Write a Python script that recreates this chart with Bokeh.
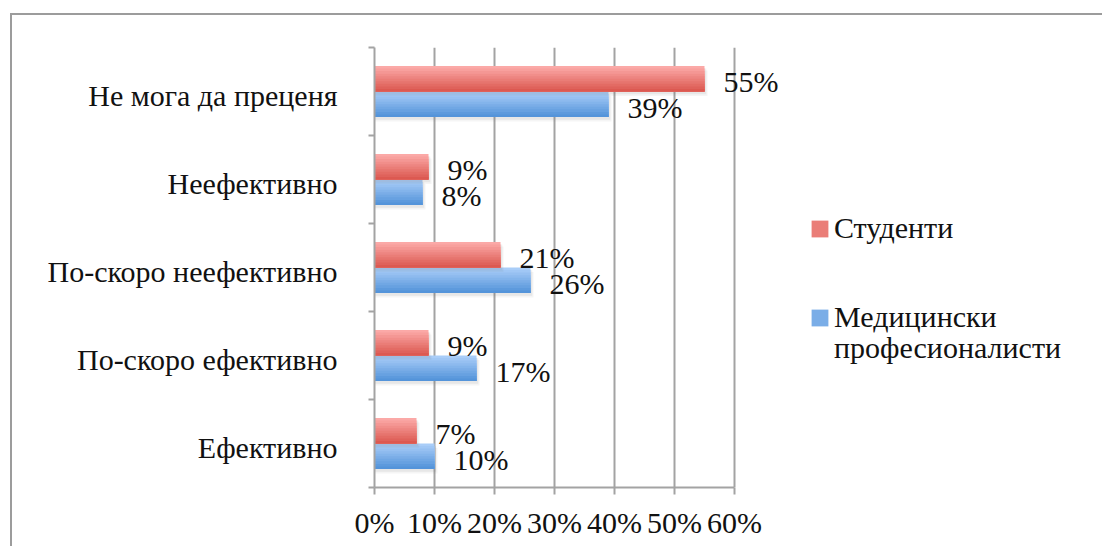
import numpy as np
from bokeh.plotting import figure
from bokeh.models import (ColumnDataSource, FixedTicker, PrintfTickFormatter, Range1d,
                          Legend, LegendItem, LabelSet)
from bokeh.embed import file_html
from bokeh.resources import INLINE

# survey answers, top to bottom
categories = ["Не мога да преценя", "Неефективно", "По-скоро неефективно",
              "По-скоро ефективно", "Ефективно"]
students = [55, 9, 21, 9, 7]
medics = [39, 8, 26, 17, 10]
series_names = ["Студенти", "Медицински", "професионалисти"]
x_ticks = [0, 10, 20, 30, 40, 50, 60]

FONT = "Liberation Serif"
FS = "30px"
GRID = "#a3a3a3"
TEXT = "#111111"

# canvas geometry (the canvas sits inside a thin grey page border)
CW, CH = 1092, 533
LEFT, TOP, BOTTOM = 362, 32, 61
AXIS_W = 360                     # pixels spanned by the 0..60 % axis
frame_w = CW - LEFT
x_end = x_ticks[-1] * frame_w / AXIS_W   # frame also hosts labels and legend

n = len(categories)
centers = [n - 0.5 - i for i in range(n)]
boundaries = list(range(n + 1))
bar_h = 0.29
half = bar_h / 2
label_drop = 0.04                # category names sit a little below the band centre

p = figure(width=CW, height=CH, output_backend="svg", toolbar_location=None,
           x_range=Range1d(x_ticks[0], x_end), y_range=Range1d(0, n),
           min_border_left=LEFT, min_border_right=0,
           min_border_top=TOP, min_border_bottom=BOTTOM)
p.margin = (13, 0, 0, 10)
p.styles = {"border-left": "2px solid #9c9c9c", "border-top": "2px solid #9c9c9c"}
p.outline_line_color = None
p.background_fill_color = "white"
p.border_fill_color = "white"


def blend(c0, c1, t):
    a = np.array([int(c0[i:i + 2], 16) for i in (1, 3, 5)], float)
    b = np.array([int(c1[i:i + 2], 16) for i in (1, 3, 5)], float)
    r = (a + (b - a) * t).round().astype(int)
    return "#%02x%02x%02x" % tuple(r)


def gradient_bars(values, offset, top_col, bot_col, k=10):
    ys = [c + offset for c in centers]
    bottoms = [y - half for y in ys]
    # soft drop shadow
    for dy, dx, a in ((0.05, 0.5, 0.07), (0.03, 0.3, 0.10)):
        p.hbar(y=[y - dy for y in ys], left=0, right=[v + dx for v in values],
               height=bar_h, fill_color="#707070", fill_alpha=a, line_color=None)
    # vertical colour gradient: each band runs from its top edge to the bar bottom
    mid = None
    for j in range(k):
        t = j / (k - 1)
        top = [y + half - bar_h * j / k for y in ys]
        r = p.hbar(y=[(a + b) / 2 for a, b in zip(top, bottoms)], left=0, right=values,
                   height=bar_h * (k - j) / k, fill_color=blend(top_col, bot_col, t),
                   line_color=None)
        if j == k // 2:
            mid = r
    return mid


r_md = gradient_bars(medics, -half, "#a9cdf8", "#5494da")
r_st = gradient_bars(students, half, "#fba9a7", "#dc5951")
# empty renderer: a legend line without a swatch (second line of a long name)
r_none = p.hbar(y=[], left=[], right=[], height=bar_h)

# value labels
lab = ColumnDataSource(dict(
    x=students + medics,
    y=[c + half for c in centers] + [c - half for c in centers],
    text=[f"{v}%" for v in students + medics],
))
p.add_layout(LabelSet(x="x", y="y", text="text", source=lab, x_offset=19, y_offset=-3,
                      text_font=FONT, text_font_size=FS, text_baseline="middle",
                      text_color=TEXT))

# axes
xa = p.xaxis[0]
xa.bounds = (x_ticks[0], x_ticks[-1])
xa.ticker = FixedTicker(ticks=x_ticks)
xa.formatter = PrintfTickFormatter(format="%d%%")
xa.axis_line_color = GRID
xa.axis_line_width = 2
xa.major_tick_line_color = GRID
xa.major_tick_line_width = 2
xa.major_tick_in = 0
xa.major_tick_out = 7
xa.minor_tick_line_color = None
xa.major_label_text_font = FONT
xa.major_label_text_font_size = FS
xa.major_label_text_color = TEXT
xa.major_label_standoff = 11

label_pos = [c - label_drop for c in centers]
ya = p.yaxis[0]
ya.ticker = FixedTicker(ticks=label_pos, minor_ticks=boundaries)
ya.major_label_overrides = {c: name for c, name in zip(label_pos, categories)}
ya.axis_line_color = GRID
ya.axis_line_width = 2
ya.major_tick_line_color = None
ya.major_tick_in = 0
ya.major_tick_out = 0
ya.minor_tick_line_color = GRID
ya.minor_tick_line_width = 2
ya.minor_tick_in = 0
ya.minor_tick_out = 6
ya.major_label_text_font = FONT
ya.major_label_text_font_size = FS
ya.major_label_text_color = TEXT
ya.major_label_standoff = 31

p.xgrid.ticker = FixedTicker(ticks=x_ticks[1:])
p.xgrid.grid_line_color = GRID
p.xgrid.grid_line_width = 2
p.ygrid.grid_line_color = None

legend_style = dict(border_line_color=None, background_fill_alpha=0,
                    label_text_font=FONT, label_text_font_size=FS, label_text_color=TEXT,
                    glyph_width=21, glyph_height=21, label_standoff=4,
                    margin=0, padding=0)
p.add_layout(Legend(items=[LegendItem(label=series_names[0], renderers=[r_st]),
                           LegendItem(label=series_names[1], renderers=[r_md])],
                    location=(435, 153), spacing=55, **legend_style))
p.add_layout(Legend(items=[LegendItem(label=series_names[2], renderers=[r_none])],
                    location=(435, 122), **legend_style))

open("out.html", "w").write(file_html(p, INLINE))
